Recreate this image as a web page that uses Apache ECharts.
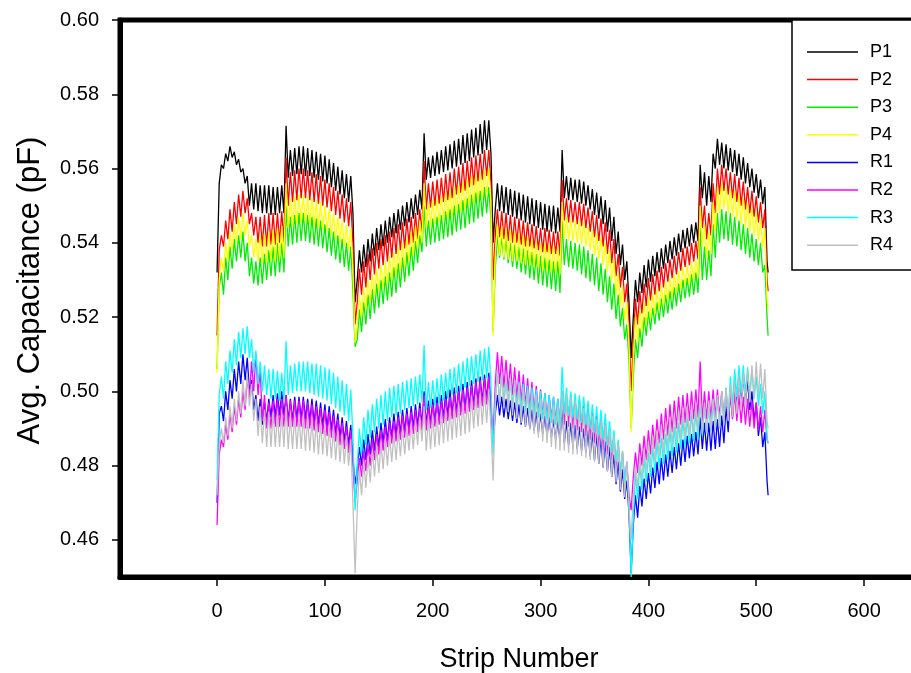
<!DOCTYPE html>
<html>
<head>
<meta charset="utf-8">
<script src="https://cdn.jsdelivr.net/npm/echarts@6/dist/echarts.min.js"></script>
<style>html,body{margin:0;padding:0;background:#fff}#c{width:911px;height:673px}</style>
</head>
<body>
<div id="c"></div>
<script>
// Values in units of 1e-4 pF, one value every 2 strips (0,2,...,510) plus strip 511
const UNIT = 1e-4;
const seriesNames = ['P1','P2','P3','P4','R1','R2','R3','R4'];
const seriesColors = ['#000000','#ff0000','#00ee00','#ffff00','#0000ff','#ff00ff','#00ffff','#c0c0c0'];
const yTicks = [0.46,0.48,0.50,0.52,0.54,0.56,0.58,0.60];
const xTicks = [0,100,200,300,400,500,600];

const P1 = [
5320,5560,5610,5600,5640,5620,5660,5630,5645,5610,5625,5590,5600,5560,5580,5500,5560,5490,5560,5485,5555,5480,5555,5480,5555,5475,5550,5475,5550,5480,5555,5480,
5715,5575,5650,5580,5655,5585,5660,5585,5660,5580,5655,5580,5650,5575,5645,5570,5640,5565,5635,5560,5625,5550,5615,5540,5605,5530,5595,5520,5585,5510,5580,5480,
5240,5300,5380,5320,5395,5335,5410,5350,5425,5365,5440,5380,5450,5390,5460,5400,5470,5415,5480,5425,5490,5435,5500,5445,5510,5455,5520,5465,5530,5475,5543,5490,
5695,5570,5630,5575,5635,5580,5645,5585,5650,5590,5660,5595,5665,5600,5675,5605,5680,5610,5690,5615,5695,5620,5705,5630,5710,5635,5720,5640,5730,5650,5730,5640,
5400,5490,5560,5485,5555,5480,5550,5475,5545,5470,5540,5465,5535,5460,5530,5455,5525,5450,5520,5445,5515,5440,5510,5435,5505,5430,5500,5430,5500,5425,5495,5430,
5650,5520,5580,5515,5575,5515,5570,5510,5570,5505,5565,5500,5555,5490,5545,5475,5535,5465,5525,5450,5515,5430,5495,5405,5470,5370,5430,5340,5395,5300,5350,5240,
5090,5200,5300,5240,5320,5265,5340,5280,5355,5295,5365,5310,5375,5320,5385,5330,5395,5345,5405,5355,5415,5365,5425,5375,5435,5385,5440,5390,5450,5400,5455,5405,
5610,5520,5590,5500,5580,5510,5640,5600,5680,5610,5670,5600,5665,5595,5655,5590,5650,5580,5640,5570,5630,5560,5615,5550,5600,5535,5585,5520,5570,5505,5550,5350,
5320];
const P2 = [
5150,5380,5420,5390,5460,5410,5490,5430,5510,5450,5530,5470,5540,5480,5520,5450,5480,5420,5470,5400,5470,5390,5475,5390,5480,5395,5480,5395,5480,5400,5485,5400,
5630,5500,5590,5510,5595,5515,5600,5520,5600,5520,5595,5515,5590,5510,5585,5505,5580,5500,5570,5495,5560,5485,5550,5475,5540,5465,5530,5455,5520,5445,5510,5400,
5180,5240,5330,5260,5350,5280,5370,5300,5385,5315,5400,5330,5410,5340,5420,5350,5430,5360,5440,5370,5450,5380,5455,5385,5465,5395,5470,5400,5480,5410,5490,5420,
5620,5490,5560,5495,5565,5500,5570,5505,5575,5510,5585,5515,5590,5520,5600,5530,5605,5535,5615,5540,5620,5550,5630,5555,5635,5565,5640,5570,5650,5580,5650,5560,
5300,5420,5490,5415,5485,5410,5480,5405,5475,5400,5470,5400,5465,5395,5460,5390,5455,5390,5450,5385,5445,5380,5440,5375,5440,5375,5435,5370,5430,5370,5430,5365,
5570,5460,5520,5455,5515,5455,5510,5450,5510,5445,5505,5440,5495,5430,5485,5415,5475,5405,5465,5390,5455,5370,5435,5345,5410,5310,5370,5280,5335,5240,5290,5180,
5000,5130,5250,5180,5270,5210,5290,5230,5305,5245,5315,5260,5325,5270,5335,5280,5345,5295,5355,5305,5365,5315,5375,5325,5385,5335,5390,5340,5400,5350,5405,5355,
5550,5440,5500,5410,5480,5420,5560,5480,5600,5530,5610,5540,5600,5530,5590,5520,5585,5510,5575,5500,5565,5490,5550,5480,5540,5470,5525,5455,5510,5440,5490,5300,
5270];
const P3 = [
5060,5280,5320,5260,5360,5300,5390,5330,5410,5350,5420,5360,5430,5350,5400,5310,5360,5290,5350,5285,5360,5290,5370,5300,5380,5310,5390,5310,5400,5320,5400,5320,
5500,5390,5470,5395,5475,5400,5480,5405,5480,5405,5475,5400,5470,5395,5465,5390,5460,5385,5450,5375,5440,5365,5430,5355,5420,5345,5410,5335,5400,5325,5390,5270,
5120,5140,5220,5160,5240,5180,5260,5195,5275,5210,5290,5225,5300,5235,5310,5245,5320,5255,5335,5265,5345,5280,5360,5295,5375,5310,5390,5325,5405,5345,5420,5375,
5500,5390,5460,5395,5465,5400,5470,5405,5475,5410,5485,5415,5490,5420,5500,5430,5505,5435,5515,5440,5520,5450,5530,5455,5535,5465,5540,5470,5550,5480,5550,5460,
5160,5330,5420,5360,5415,5355,5410,5345,5400,5335,5395,5330,5390,5320,5385,5315,5380,5305,5375,5300,5370,5290,5365,5285,5360,5280,5355,5275,5350,5270,5350,5265,
5460,5340,5410,5335,5405,5330,5400,5325,5395,5315,5390,5305,5380,5295,5370,5285,5360,5270,5345,5260,5330,5240,5310,5220,5290,5195,5260,5175,5225,5140,5180,5080,
4900,5040,5140,5090,5170,5120,5200,5150,5215,5165,5225,5180,5240,5190,5250,5200,5260,5210,5270,5220,5280,5230,5290,5240,5300,5250,5305,5255,5315,5260,5320,5265,
5440,5300,5390,5300,5380,5310,5450,5360,5480,5400,5490,5410,5485,5405,5480,5395,5470,5390,5460,5380,5450,5370,5440,5360,5425,5350,5410,5340,5400,5320,5340,5200,
5150];
const P4 = [
5050,5300,5360,5320,5400,5350,5430,5380,5450,5400,5470,5410,5480,5420,5460,5390,5420,5360,5410,5350,5420,5345,5425,5345,5430,5350,5435,5350,5440,5355,5445,5360,
5560,5440,5520,5445,5525,5450,5530,5455,5530,5455,5525,5450,5520,5445,5515,5440,5510,5435,5500,5430,5490,5420,5480,5410,5470,5400,5460,5390,5450,5380,5440,5330,
5130,5180,5260,5200,5280,5220,5300,5240,5315,5255,5330,5270,5340,5280,5350,5290,5365,5300,5375,5310,5390,5325,5400,5335,5415,5350,5430,5365,5445,5385,5460,5400,
5560,5440,5510,5445,5515,5450,5520,5455,5525,5460,5535,5465,5540,5470,5550,5480,5555,5485,5565,5490,5570,5500,5580,5505,5585,5515,5590,5520,5600,5530,5600,5510,
5150,5370,5450,5365,5445,5360,5440,5355,5435,5350,5430,5350,5425,5345,5420,5340,5415,5340,5410,5335,5405,5330,5400,5325,5400,5325,5395,5320,5390,5320,5390,5315,
5510,5410,5470,5405,5465,5405,5460,5400,5460,5395,5455,5390,5445,5380,5435,5365,5425,5355,5415,5340,5400,5320,5380,5295,5355,5260,5320,5230,5285,5190,5240,5130,
4890,5090,5200,5130,5220,5160,5240,5180,5255,5195,5265,5210,5275,5220,5285,5230,5295,5245,5305,5255,5315,5265,5325,5275,5335,5285,5340,5290,5350,5300,5355,5305,
5500,5390,5450,5360,5430,5370,5510,5430,5550,5480,5560,5490,5550,5480,5545,5470,5540,5460,5530,5450,5520,5440,5505,5430,5495,5420,5480,5405,5465,5390,5440,5250,
5220];
const R1 = [
4700,4940,4960,4920,5000,4950,5030,4980,5060,5000,5080,5020,5100,5030,5090,5000,5030,4950,4990,4920,4980,4910,4970,4920,4980,4930,4990,4930,4995,4935,5000,4935,
4990,4920,4980,4920,4985,4925,4985,4925,4985,4925,4980,4920,4980,4915,4975,4910,4970,4905,4965,4900,4960,4895,4950,4885,4940,4875,4930,4865,4920,4855,4910,4820,
4750,4790,4850,4800,4870,4815,4885,4830,4895,4840,4905,4850,4915,4860,4925,4865,4930,4875,4940,4880,4945,4885,4950,4890,4955,4895,4960,4900,4965,4905,4970,4910,
5000,4905,4975,4910,4980,4915,4985,4920,4990,4925,5000,4930,5005,4935,5010,4940,5015,4945,5020,4950,5025,4955,5030,4960,5035,4965,5040,4970,5045,4975,5050,4960,
4860,4940,4990,4935,4985,4930,4980,4925,4975,4920,4970,4915,4965,4910,4960,4905,4955,4900,4950,4895,4945,4890,4940,4885,4935,4880,4930,4875,4925,4870,4920,4865,
4960,4860,4920,4855,4915,4850,4910,4845,4905,4840,4900,4835,4895,4825,4890,4815,4885,4805,4875,4795,4865,4785,4850,4770,4830,4750,4810,4730,4790,4710,4760,4670,
4510,4640,4720,4660,4745,4690,4765,4710,4780,4725,4795,4740,4810,4750,4820,4760,4830,4770,4840,4780,4850,4790,4860,4800,4870,4810,4880,4820,4885,4825,4890,4830,
4930,4845,4915,4840,4915,4840,4920,4845,4925,4850,4935,4860,4960,4890,5000,4930,5030,4960,5040,4970,5040,4970,5030,4950,5000,4920,4970,4880,4930,4850,4890,4760,
4720];
const R2 = [
4640,4830,4870,4850,4910,4870,4940,4890,4960,4910,4980,4930,5000,4950,5040,4980,5080,5000,5100,4990,5060,4920,4990,4900,4970,4900,4975,4905,4980,4905,4980,4905,
4990,4905,4975,4905,4975,4905,4975,4905,4975,4900,4970,4900,4965,4895,4960,4890,4955,4885,4950,4880,4945,4875,4935,4865,4925,4855,4915,4845,4905,4835,4895,4800,
4700,4760,4820,4770,4840,4785,4855,4800,4870,4815,4885,4830,4895,4840,4905,4850,4915,4860,4920,4865,4930,4870,4935,4875,4940,4880,4945,4885,4950,4890,4955,4895,
4990,4895,4960,4900,4965,4905,4970,4910,4975,4915,4980,4920,4985,4925,4995,4930,5000,4935,5005,4940,5010,4945,5015,4950,5025,4955,5030,4960,5035,4965,5040,4950,
4880,5020,5105,5020,5095,5010,5085,5000,5075,4990,5065,4980,5055,4970,5045,4960,5035,4950,5025,4945,5015,4940,5005,4935,4995,4930,4990,4925,4985,4920,4980,4915,
5000,4910,4990,4905,4985,4900,4980,4895,4975,4890,4965,4880,4955,4870,4945,4860,4935,4850,4925,4840,4915,4830,4900,4815,4880,4795,4860,4775,4835,4750,4810,4720,
4680,4770,4835,4780,4860,4800,4880,4815,4895,4830,4910,4845,4925,4860,4940,4870,4955,4880,4965,4890,4975,4900,4985,4910,4990,4915,4995,4920,5000,4925,5005,4930,
5080,4920,5000,4925,5000,4925,5005,4930,5005,4930,5000,4930,5000,4925,4995,4925,4995,4920,4990,4915,4985,4910,4980,4905,4975,4900,4970,4895,4960,4890,4950,4870,
4860];
const R3 = [
4760,4990,5040,4980,5080,5020,5110,5050,5140,5070,5160,5090,5170,5100,5175,5090,5140,5050,5110,5020,5080,5000,5070,4990,5060,4980,5060,4980,5055,4975,5050,4975,
5135,4990,5070,4995,5075,5000,5080,5000,5080,5000,5080,4995,5075,4990,5075,4985,5070,4980,5065,4975,5060,4965,5050,4955,5040,4945,5030,4935,5020,4920,5005,4880,
4680,4800,4900,4830,4930,4855,4950,4875,4965,4890,4980,4900,4990,4910,5000,4920,5010,4930,5015,4935,5020,4940,5025,4950,5030,4955,5035,4960,5040,4965,5045,4970,
5125,4950,5025,4955,5030,4960,5035,4965,5045,4975,5050,4980,5060,4990,5065,4995,5075,5000,5080,5010,5090,5015,5095,5020,5100,5025,5110,5030,5115,5035,5120,5020,
4830,4980,5050,4975,5045,4970,5040,4965,5035,4960,5030,4955,5025,4950,5020,4945,5015,4940,5010,4935,5005,4930,5000,4925,4995,4920,4990,4915,4985,4910,4980,4905,
5066,4940,5010,4935,5000,4930,4995,4925,4990,4915,4985,4910,4975,4900,4965,4890,4960,4880,4950,4870,4940,4855,4920,4835,4895,4810,4870,4780,4840,4750,4810,4700,
4500,4660,4780,4710,4800,4735,4820,4755,4835,4770,4850,4780,4865,4795,4875,4805,4885,4815,4895,4825,4905,4835,4915,4845,4925,4850,4930,4860,4940,4865,4945,4870,
4980,4880,4960,4885,4965,4890,4975,4900,4985,4905,4995,4915,5010,4930,5040,4960,5060,4985,5070,4995,5070,4995,5065,4990,5060,4980,5040,4960,5020,4940,5000,4880,
4860];
const R4 = [
4720,4860,4900,4860,4930,4880,4960,4900,4980,4920,5000,4940,5030,4960,5050,4960,5020,4920,4980,4880,4960,4860,4950,4850,4945,4850,4945,4850,4940,4850,4940,4850,
4960,4845,4935,4845,4935,4845,4935,4845,4935,4840,4930,4840,4925,4835,4920,4830,4915,4830,4910,4825,4905,4820,4900,4815,4895,4810,4885,4805,4880,4800,4870,4700,
4510,4680,4790,4720,4810,4740,4825,4755,4840,4770,4850,4780,4860,4790,4870,4800,4880,4810,4885,4815,4895,4825,4900,4830,4905,4840,4915,4845,4920,4855,4930,4865,
4960,4840,4930,4845,4935,4850,4940,4855,4945,4860,4950,4865,4955,4870,4960,4875,4965,4880,4970,4885,4975,4890,4985,4900,4990,4905,4995,4910,5000,4915,5005,4900,
4760,4960,5060,4965,5050,4955,5045,4945,5035,4935,5030,4925,5020,4915,5010,4905,5005,4895,4995,4885,4990,4875,4980,4865,4975,4860,4970,4850,4965,4845,4960,4840,
5000,4840,4995,4835,4985,4830,4975,4830,4965,4825,4955,4820,4945,4815,4935,4810,4925,4805,4920,4795,4910,4785,4895,4770,4880,4755,4860,4735,4840,4715,4810,4680,
4600,4720,4800,4740,4825,4760,4845,4780,4865,4795,4880,4810,4895,4825,4910,4835,4920,4845,4930,4855,4940,4865,4950,4870,4955,4875,4960,4880,4965,4885,4970,4890,
4990,4885,4970,4885,4975,4890,4980,4895,4990,4900,5000,4910,5010,4920,5020,4930,5030,4940,5040,4950,5050,4960,5060,4970,5070,4980,5080,4985,5075,4980,5060,4920,
4900];

const strips = [];
for (let i = 0; i < 256; i++) strips.push(2 * i);
strips.push(511);

const allValues = [P1, P2, P3, P4, R1, R2, R3, R4];
const FONT = '"Liberation Sans", Arial, sans-serif';

const chart = echarts.init(document.getElementById('c'), null, {renderer: 'canvas'});
chart.setOption({
  animation: false,
  backgroundColor: '#ffffff',
  textStyle: {fontFamily: FONT},
  grid: {left: 120, top: 20, width: 798, height: 557, outerBoundsMode: 'none', containLabel: false,
         show: true, borderColor: '#000', borderWidth: 5, backgroundColor: 'transparent'},
  xAxis: {
    type: 'value', min: -90, max: 650,
    name: 'Strip Number', nameLocation: 'middle', nameGap: 69,
    nameTextStyle: {fontSize: 27, color: '#000', fontFamily: FONT},
    axisLine: {show: true, onZero: false, lineStyle: {color: '#000', width: 5}},
    axisTick: {show: true, length: 9, lineStyle: {color: '#000', width: 1.5}, customValues: xTicks},
    axisLabel: {fontSize: 20, color: '#000', margin: 24, fontFamily: FONT, customValues: xTicks, formatter: v => String(Math.round(v))},
    splitLine: {show: false}
  },
  yAxis: {
    type: 'value', min: 0.45, max: 0.60,
    name: 'Avg. Capacitance (pF)', nameLocation: 'middle', nameGap: 74, nameRotate: 90,
    nameTextStyle: {fontSize: 31, color: '#000', fontFamily: FONT, padding: [0, 0, 0, 16]},
    axisLine: {show: true, onZero: false, lineStyle: {color: '#000', width: 5}},
    axisTick: {show: true, length: 8, lineStyle: {color: '#000', width: 1.5}, customValues: yTicks},
    axisLabel: {fontSize: 20, color: '#000', margin: 21, fontFamily: FONT, customValues: yTicks, formatter: v => v.toFixed(2)},
    splitLine: {show: false}
  },
  graphic: [{
    type: 'rect', z: 3,
    shape: {x: 792, y: 20, width: 200, height: 250},
    style: {fill: '#ffffff', stroke: '#000', lineWidth: 1.5}
  }],
  legend: {
    show: true, z: 5, orient: 'vertical', left: 802, top: 38,
    itemWidth: 51, itemHeight: 20, itemGap: 9.6,
    textStyle: {fontSize: 18, color: '#000', fontFamily: FONT, padding: [0, 0, 0, 7]},
    data: seriesNames.map(n => ({name: n, icon: 'path://M0,0 L51,0 L51,1.5 L0,1.5 Z'})),
    itemStyle: {borderWidth: 0}
  },
  series: seriesNames.map((n, k) => ({
    name: n, type: 'line', showSymbol: false, symbol: 'none',
    color: seriesColors[k],
    lineStyle: {color: seriesColors[k], width: 1.3},
    itemStyle: {color: seriesColors[k]},
    data: strips.map((s, i) => [s, allValues[k][i] * UNIT])
  }))
});
</script>
</body>
</html>
